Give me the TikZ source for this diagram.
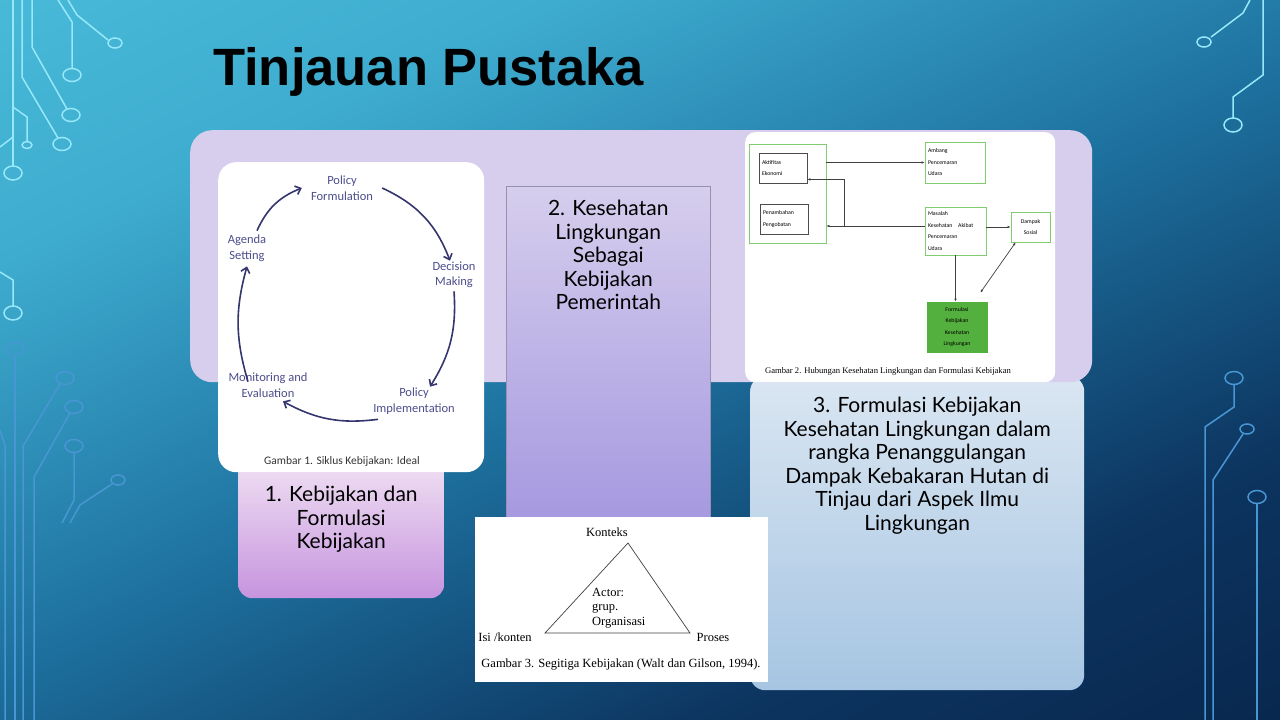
\documentclass[tikz,border=0pt]{standalone}
\usepackage{fontspec}
\setmainfont{Lato}
\newfontfamily\titlefont{Liberation Sans}
\newfontfamily\figfont{Carlito}
\newfontfamily\capfont{Liberation Serif}
\usetikzlibrary{arrows.meta,positioning,calc}

\definecolor{bgtop}{RGB}{84,202,226}
\definecolor{bghigh}{RGB}{62,172,207}
\definecolor{bgmid}{RGB}{30,114,160}
\definecolor{bglow}{RGB}{12,52,95}
\definecolor{bgbot}{RGB}{4,24,58}
\definecolor{wirec}{RGB}{150,232,250}
\definecolor{wiredkc}{RGB}{72,150,212}
\definecolor{bandc}{RGB}{214,206,236}
\definecolor{cyctext}{RGB}{78,78,140}
\definecolor{cycline}{RGB}{52,52,110}
\definecolor{grnline}{RGB}{128,204,110}
\definecolor{grnfill}{RGB}{84,176,62}
\pgfdeclareverticalshading{slidebg}{100bp}{color(0bp)=(bgbot); color(30bp)=(bglow); color(50bp)=(bgmid); color(70bp)=(bghigh); color(100bp)=(bgtop)}

\begin{document}
\begin{tikzpicture}[x=1pt, y=-1pt, >={Latex[length=3pt,width=2.6pt]},
    wire/.style={draw=wirec, line width=1.5pt},
    wiredk/.style={draw=wiredkc, line width=1.5pt},
    panel/.style={inner sep=0pt, rounded corners=16pt},
    figbox/.style={fill=white, inner sep=0pt, rounded corners=18pt},
    lbl/.style={font=\fontsize{21}{23.5}\selectfont, align=center, inner sep=0pt},
    cyc/.style={font=\figfont\fontsize{12.5}{15.5}\selectfont, text=cyctext, align=center, inner sep=1pt},
    car/.style={-{Straight Barb[length=5pt,width=9pt]}, draw=cycline, line width=1.6pt},
    dbox/.style={draw=grnline, line width=0.8pt, font=\figfont\fontsize{5.8}{11.5}\selectfont,
                 align=left, inner sep=1.5pt},
    ar/.style={->, draw=black!75, line width=0.7pt},
    tri/.style={font=\capfont\fontsize{12.5}{14.5}\selectfont, inner sep=0pt}]
  \useasboundingbox (0,0) rectangle (1280,720);
  % --- slide background ---
  \shade[shading=slidebg, shading angle=25] (0,0) rectangle (1280,720);
  % --- circuit wires, top left ---
  \draw[wire] (13,0) -- (13,166);
  \draw[wire] (13,173) ellipse [x radius=9pt, y radius=7pt];
  \draw[wire] (22,0) -- (22,77) -- (58,138);
  \draw[wire] (62,144) ellipse [x radius=9pt, y radius=6.5pt];
  \draw[wire] (32,0) -- (32,47) -- (67,109);
  \draw[wire] (71,115) ellipse [x radius=9pt, y radius=6.5pt];
  \draw[wire] (58,0) -- (72,22) -- (72,69);
  \draw[wire] (72,75) ellipse [x radius=9pt, y radius=6.5pt];
  \draw[wire] (68,0) -- (77,15) -- (108,40);
  \draw[wire] (115,43) ellipse [x radius=7pt, y radius=5pt];
  \draw[wire] (13,107) -- (27,117) -- (27,141);
  \draw[wire] (27,145) ellipse [x radius=5pt, y radius=3.5pt];
  \draw[wire] (0,147) -- (13,137);
  \draw[wire] (0,272) -- (13,280) -- (13,306);
  \draw[wire] (13,313) ellipse [x radius=9pt, y radius=7pt];
  % --- circuit wires, bottom left ---
  \draw[wiredk] (15,349) ellipse [x radius=9pt, y radius=6.5pt];
  \draw[wiredk] (15,356) -- (15,720);
  \draw[wiredk] (65,378) ellipse [x radius=9pt, y radius=6.5pt];
  \draw[wiredk] (60,384) -- (23,446) -- (23,720);
  \draw[wiredk] (74,407) ellipse [x radius=9pt, y radius=6.5pt];
  \draw[wiredk] (70,413) -- (34,477) -- (34,720);
  \draw[wiredk] (74,446) ellipse [x radius=9pt, y radius=6.5pt];
  \draw[wiredk] (74,453) -- (74,500) -- (62,523);
  \draw[wiredk] (118,480) ellipse [x radius=7pt, y radius=5pt];
  \draw[wiredk] (112,484) -- (80,505) -- (70,523);
  \draw[wiredk] (0,430) -- (5,445) -- (5,720);
  % --- circuit wires, right ---
  \draw[wire] (1250,0) -- (1243,13) -- (1211,37);
  \draw[wire] (1204,42) ellipse [x radius=7pt, y radius=5pt];
  \draw[wire] (1263,0) -- (1263,75) -- (1233,97) -- (1233,118);
  \draw[wire] (1233,125) ellipse [x radius=9pt, y radius=7pt];
  \draw[wiredk] (1234,378) ellipse [x radius=9pt, y radius=6.5pt];
  \draw[wiredk] (1234,385) -- (1234,407) -- (1205,427) -- (1205,720);
  \draw[wiredk] (1247,429) ellipse [x radius=7pt, y radius=5pt];
  \draw[wiredk] (1243,434) -- (1213,480) -- (1213,720);
  \draw[wiredk] (1257,497) ellipse [x radius=9pt, y radius=6.5pt];
  \draw[wiredk] (1257,504) -- (1257,720);
  % --- title ---
  \node[anchor=base west, inner sep=0pt, font=\titlefont\bfseries\fontsize{52.5}{56}\selectfont] (ttl) at (213,85) {Tinjauan Pustaka};
  % --- panels ---
  \node[panel, rounded corners=15pt, top color={rgb,255:red,218;green,230;blue,242}, bottom color={rgb,255:red,166;green,197;blue,226},
        minimum width=334, minimum height=314, anchor=north west] (b3) at (750,376) {};
  \node[panel, rounded corners=22pt, fill=bandc, minimum width=902, minimum height=252, anchor=north west] (band) at (190,130) {};
  \node[panel, sharp corners, draw={rgb,255:red,150;green,145;blue,175}, line width=0.5pt,
        top color={rgb,255:red,214;green,206;blue,237}, bottom color={rgb,255:red,166;green,153;blue,224},
        minimum width=204, minimum height=332, anchor=north west] (b2) at (506,186) {};
  \node[panel, rounded corners=14pt, top color={rgb,255:red,240;green,224;blue,243}, bottom color={rgb,255:red,198;green,148;blue,222},
        minimum width=206, minimum height=138, anchor=north west] (b1) at (238,460) {};
  \node[lbl, below=26pt of b1.north] (t1) {1. Kebijakan dan\\Formulasi\\Kebijakan};
  \node[lbl, below=14pt of b2.north] (t2) {2. Kesehatan\\Lingkungan\\Sebagai\\Kebijakan\\Pemerintah};
  \node[lbl, below=21pt of b3.north] (t3) {3. Formulasi Kebijakan\\Kesehatan Lingkungan dalam\\rangka Penanggulangan\\Dampak Kebakaran Hutan di\\Tinjau dari Aspek Ilmu\\Lingkungan};
  % --- figure 1: policy cycle ---
  \node[figbox, minimum width=266, minimum height=310, anchor=north west] (fig1) at (218,162) {};
  \node[cyc] (pf) at (342,188) {Policy\\Formulation};
  \node[cyc] (dm) at (454,275) {Decision\\Making};
  \node[cyc] (pi) at (414,401) {Policy\\Implementation};
  \node[cyc] (me) at (268,385) {Monitoring and\\Evaluation};
  \node[cyc] (as) at (247,248) {Agenda\\Setting};
  \draw[car] ([xshift=10pt,yshift=3pt]as.north) to[bend left=22] ([xshift=-8pt]pf.west);
  \draw[car] ([xshift=8pt]pf.east) to[bend left=22] ([xshift=-4pt]dm.north);
  \draw[car] ([yshift=-2pt]dm.south) to[bend left=18] ([xshift=16pt]pi.north);
  \draw[car] ([xshift=6pt,yshift=-4pt]pi.south west) to[bend left=18] ([xshift=15pt,yshift=-3pt]me.south);
  \draw[car] ([xshift=-20pt,yshift=-10pt]me.north) to[bend left=16] ([yshift=-4pt]as.south);
  \node[font=\figfont\fontsize{11.5}{14}\selectfont, text=black!80] (cap1) at (342,461) {Gambar 1. Siklus Kebijakan: Ideal};
  % --- figure 2: health and policy formulation ---
  \node[figbox, rounded corners=10pt, minimum width=310, minimum height=250, anchor=north west] (fig2) at (745,132) {};
  \node[dbox, minimum width=77, minimum height=99] (grp) at (787.5,193.5) {};
  \node[dbox, draw=black!70, minimum width=48, minimum height=30, text width=42] (ekon) at (783,168) {Aktifitas\\Ekonomi};
  \node[dbox, draw=black!70, minimum width=48, minimum height=30, text width=42] (obat) at (784,219) {Penambahan\\Pengobatan};
  \node[dbox, minimum width=60, minimum height=41, text width=54] (ambang) at (955,162.5) {Ambang\\Pencemaran\\Udara};
  \node[dbox, minimum width=61, minimum height=48, text width=55] (masalah) at (955.5,231) {Masalah\\Kesehatan\quad Akibat\\Pencemaran\\Udara};
  \node[dbox, align=center, minimum width=39, minimum height=30] (dampak) at (1030.5,227) {Dampak\\Sosial};
  \node[dbox, align=center, fill=grnfill, draw=grnfill, minimum width=60, minimum height=50] (formul) at (957,327) {Formulasi\\Kebijakan\\Kesehatan\\Lingkungan};
  \coordinate (br) at (844,226);
  \draw[ar] (ambang.west -| grp.east) -- (ambang.west);
  \draw[ar] (masalah.west |- br) -- (br -| grp.east);
  \draw[ar] (br) |- ([yshift=4pt]ekon.south east);
  \draw[ar] (masalah.east |- dampak.west) -- (dampak.west);
  \draw[ar] (masalah.south) -- (masalah.south |- formul.north);
  \draw[ar, <->] ([xshift=5pt]dampak.south west) -- ($(formul.north east)+(-7,-9)$);
  \node[font=\capfont\fontsize{8.6}{10}\selectfont] (cap2) at (888,371) {Gambar 2. Hubungan Kesehatan Lingkungan dan Formulasi Kebijakan};
  % --- figure 3: policy triangle ---
  \node[figbox, sharp corners, minimum width=293, minimum height=165, anchor=north west] (fig3) at (475,517) {};
  \coordinate (ta) at (628,543);
  \coordinate (tb) at (545,633);
  \coordinate (tc) at (690,633);
  \draw[black!75, line width=0.7pt] (ta) -- (tb) -- (tc) -- cycle;
  \node[tri] (kon) at (607,532) {Konteks};
  \node[tri] (isi) at (505,637) {Isi /konten};
  \node[tri] (pro) at (713,637) {Proses};
  \node[tri, align=left, anchor=north west] (act) at (592,588) {Actor:\\grup.\\Organisasi};
  \node[tri] (cap3) at (621,665) {Gambar 3. Segitiga Kebijakan (Walt dan Gilson, 1994).};
\end{tikzpicture}
\end{document}
